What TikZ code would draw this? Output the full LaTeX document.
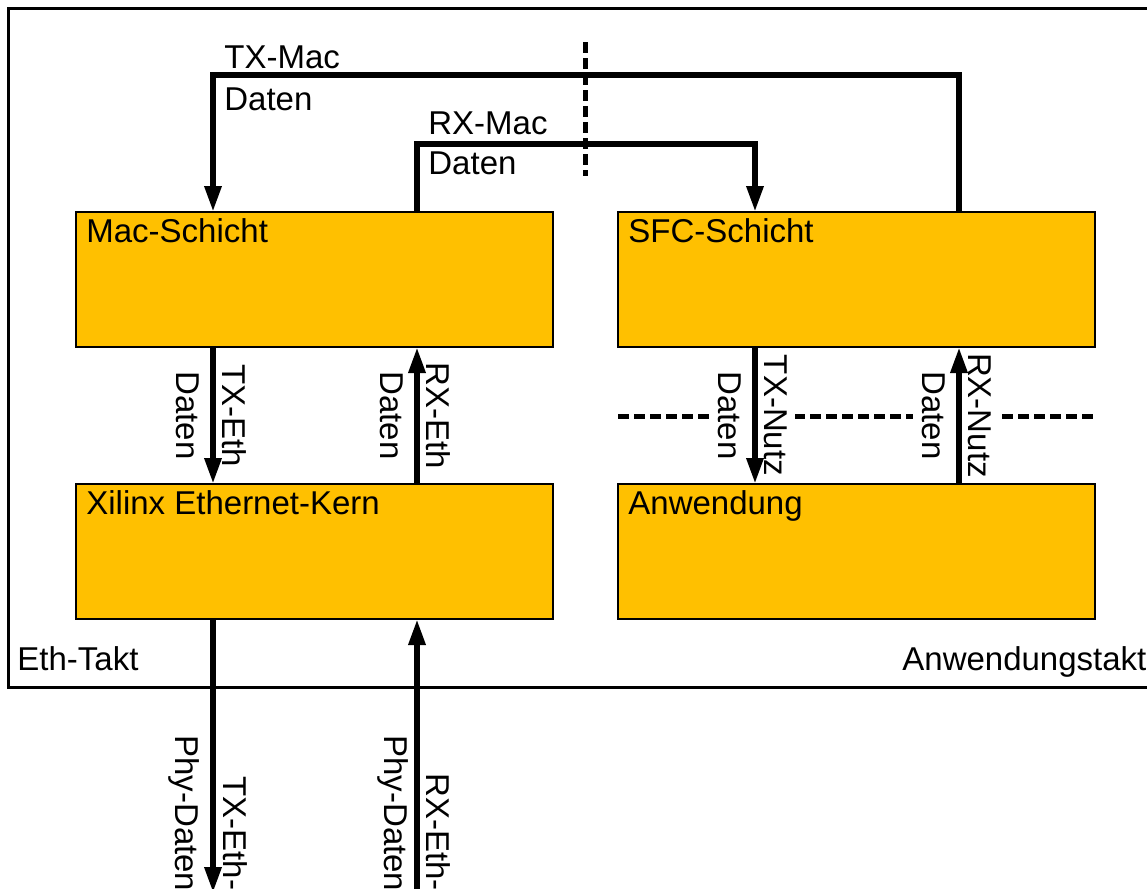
\documentclass[tikz,border=0pt]{standalone}
\usepackage{fontspec}
\setmainfont{Liberation Sans}
\usetikzlibrary{arrows.meta,calc}
\definecolor{boxc}{HTML}{FFC000}
\begin{document}
\begin{tikzpicture}[x=0.5pt,y=-0.5pt,
  box/.style={draw=black, fill=boxc, line width=1.25pt, minimum width=238.5pt, minimum height=67.5pt, inner sep=0pt, outer sep=0pt},
  fnt/.style={font=\fontsize{16.5pt}{19.8pt}\selectfont},
  lbl/.style={fnt, inner sep=0pt, anchor=base west},
  rl/.style={fnt, rotate=-90, anchor=south, fill=white, inner xsep=1pt, inner ysep=4pt},
  ll/.style={fnt, rotate=-90, anchor=north, fill=white, inner xsep=1pt, inner ysep=5pt},
  rlb/.style={fnt, rotate=-90, anchor=south west, inner sep=0pt},
  llb/.style={fnt, rotate=-90, anchor=north west, inner sep=0pt},
  flow/.style={line width=3pt, -{Triangle[length=13pt,width=8pt]}},
  sep/.style={line width=2.5pt, dash pattern=on 5.5pt off 2.5pt},
  frame/.style={line width=1.5pt}
]
\useasboundingbox (0,0) rectangle (1147,889);
\clip (0,0) rectangle (1147,889);
\fill[white] (0,0) rectangle (1147,889);

% outer frame (right side beyond the picture)
\draw[frame] (1170,8) -- (8,8) -- (8,687) -- (1170,687);

% blocks
\node[box] (mac) at (314.5,279.5) {};
\node[box] (sfc) at (856.5,279.5) {};
\node[box] (xil) at (314.5,551.5) {};
\node[box] (anw) at (856.5,551.5) {};

\node[lbl] (macl) at ($(mac.north west)+(10,30)$) {Mac-Schicht};
\node[lbl] (sfcl) at ($(sfc.north west)+(10,30)$) {SFC-Schicht};
\node[lbl] (xill) at ($(xil.north west)+(10,30)$) {Xilinx Ethernet-Kern};
\node[lbl] (anwl) at ($(anw.north west)+(10,30)$) {Anwendung};

% clock domain separators
\coordinate (vsTop) at (585,42);
\coordinate (vsBot) at (585,176);
\draw[sep] (vsTop) -- (vsBot);
\coordinate (hsL) at ($(sfc.north west)+(0,204)$);
\coordinate (hsR) at ($(sfc.north east)+(0,204)$);
\draw[sep] (hsL) -- (hsR);

% vertical connectors between the layers
\coordinate (a1s) at ($(mac.south west)+(137,0)$);
\coordinate (a1e) at ($(xil.north west)+(137,0)$);
\coordinate (a2s) at ($(xil.north west)+(341,0)$);
\coordinate (a2e) at ($(mac.south west)+(341,0)$);
\coordinate (a3s) at ($(sfc.south west)+(137,0)$);
\coordinate (a3e) at ($(anw.north west)+(137,0)$);
\coordinate (a4s) at ($(anw.north west)+(341,0)$);
\coordinate (a4e) at ($(sfc.south west)+(341,0)$);

\node[rl] (a1r) at ($(a1s)!0.5!(a1e)+(1,0)$) {TX-Eth};
\node[ll] (a1l) at ($(a1s)!0.5!(a1e)+(-3,0)$) {Daten};
\node[rl] (a2r) at ($(a2s)!0.5!(a2e)+(1,0)$) {RX-Eth};
\node[ll] (a2l) at ($(a2s)!0.5!(a2e)+(-3,0)$) {Daten};
\node[rl] (a3r) at ($(a3s)!0.5!(a3e)+(1,0)$) {TX-Nutz};
\node[ll] (a3l) at ($(a3s)!0.5!(a3e)+(-3,0)$) {Daten};
\node[rl] (a4r) at ($(a4s)!0.5!(a4e)+(1,0)$) {RX-Nutz};
\node[ll] (a4l) at ($(a4s)!0.5!(a4e)+(-3,0)$) {Daten};

\draw[flow] (a1s) -- (a1e);
\draw[flow] (a2s) -- (a2e);
\draw[flow] (a3s) -- (a3e);
\draw[flow] (a4s) -- (a4e);

% top connectors across clock domains
\coordinate (tS) at ($(sfc.north west)+(341,0)$);
\coordinate (tE) at ($(mac.north west)+(137,0)$);
\draw[flow] (tS) -- ++(0,-137) -| (tE);
\node[lbl] (tl1) at ($(tE)+(11,-144)$) {TX-Mac};
\node[lbl] (tl2) at ($(tE)+(11,-102)$) {Daten};

\coordinate (rS) at ($(mac.north west)+(341,0)$);
\coordinate (rE) at ($(sfc.north west)+(137,0)$);
\draw[flow] (rS) -- ++(0,-68) -| (rE);
\node[lbl] (rl1) at ($(rS)+(11,-78)$) {RX-Mac};
\node[lbl] (rl2) at ($(rS)+(11,-38)$) {Daten};

% physical interface
\coordinate (bTs) at ($(xil.south west)+(137,0)$);
\coordinate (bTe) at ($(xil.south west)+(137,274)$);
\coordinate (bRs) at ($(xil.south west)+(341,300)$);
\coordinate (bRe) at ($(xil.south west)+(341,0)$);
\draw[flow] (bTs) -- (bTe);
\draw[flow] (bRs) -- (bRe);
\node[rlb] (bt1) at ($(bTs)+(9.5,157)$) {TX-Eth-};
\node[llb] (bt2) at ($(bTs)+(-13.5,116)$) {Phy-Daten};
\node[rlb] (br1) at ($(bRe)+(8.5,154)$) {RX-Eth-};
\node[llb] (br2) at ($(bRe)+(-8,116)$) {Phy-Daten};

% clock domain names
\node[lbl] (ethtakt) at (17,670) {Eth-Takt};
\node[lbl] (anwtakt) at (902,670) {Anwendungstakt};
\end{tikzpicture}
\end{document}
